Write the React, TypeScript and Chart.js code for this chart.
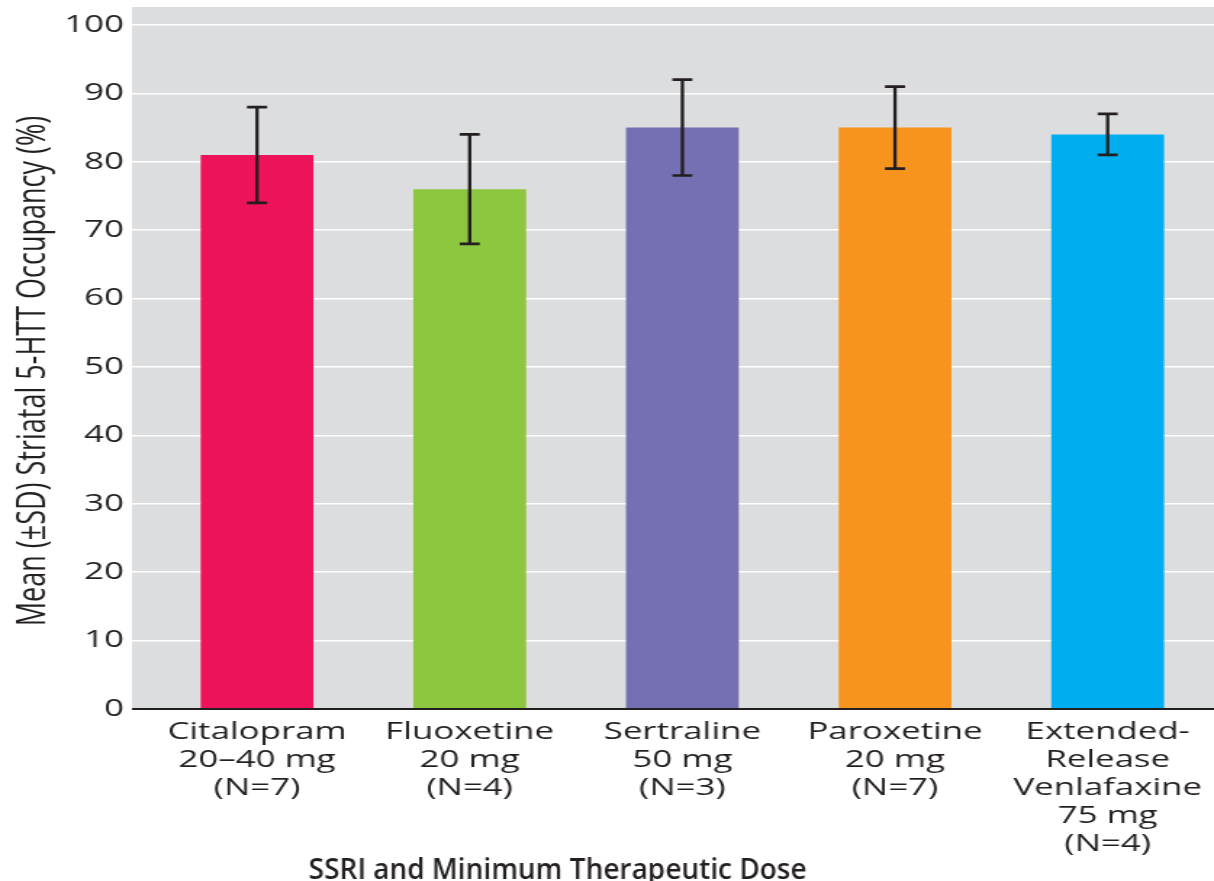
import React, { useEffect, useRef } from "react";
import { Chart, registerables } from "chart.js";

Chart.register(...registerables);

// Drug groups (multi-line category labels)
const drugLabels: string[][] = [
  ["Citalopram", "20–40 mg", "(N=7)"],
  ["Fluoxetine", "20 mg", "(N=4)"],
  ["Sertraline", "50 mg", "(N=3)"],
  ["Paroxetine", "20 mg", "(N=7)"],
  ["Extended-", "Release", "Venlafaxine", "75 mg", "(N=4)"],
];

// Mean striatal 5-HTT occupancy (%) and its standard deviation
const meanOccupancy: number[] = [81, 76, 85, 85, 84];
const sdOccupancy: number[] = [7, 8, 7, 6, 3];

const barColors: string[] = ["#ec135a", "#8dc63f", "#7470b3", "#f7941d", "#00aeef"];

const yTicks: number[] = [0, 10, 20, 30, 40, 50, 60, 70, 80, 90, 100];

const yTitle = "Mean (±SD) Striatal 5-HTT Occupancy (%)";
const xTitle = "SSRI and Minimum Therapeutic Dose";

// Drawing surface is rendered narrow and widened by CSS (horizontal stretch)
const STRETCH = 1.45;
const CSS_W = 1214;
const CSS_H = 881;
const CANVAS_W = Math.round(CSS_W / STRETCH);
const CANVAS_H = CSS_H;

const FONT = "'Open Sans', 'DejaVu Sans', sans-serif";
const INK = "#231f20";
const PANEL = "#dcdddf";
const TICK_LEN = 12.9;

const panelPlugin = {
  id: "panelBackground",
  beforeDraw(chart: any) {
    const { ctx, chartArea } = chart;
    ctx.save();
    ctx.fillStyle = PANEL;
    const left = chartArea.left - TICK_LEN;
    const top = chartArea.top - 18;
    ctx.fillRect(left, top, chartArea.right - left, chartArea.bottom - top);
    ctx.restore();
  },
};

const errorBarPlugin = {
  id: "errorBars",
  afterDatasetsDraw(chart: any) {
    const { ctx } = chart;
    const yScale = chart.scales.y;
    const meta = chart.getDatasetMeta(0);
    ctx.save();
    ctx.strokeStyle = INK;
    meta.data.forEach((bar: any, i: number) => {
      const x = bar.x;
      const hi = yScale.getPixelForValue(meanOccupancy[i] + sdOccupancy[i]);
      const lo = yScale.getPixelForValue(meanOccupancy[i] - sdOccupancy[i]);
      ctx.lineWidth = 2.3;
      ctx.beginPath();
      ctx.moveTo(x, hi);
      ctx.lineTo(x, lo);
      ctx.stroke();
      ctx.lineWidth = 2.7;
      ctx.beginPath();
      ctx.moveTo(x - 6.9, hi);
      ctx.lineTo(x + 6.9, hi);
      ctx.moveTo(x - 6.9, lo);
      ctx.lineTo(x + 6.9, lo);
      ctx.stroke();
    });
    ctx.restore();
  },
};

const titlesPlugin = {
  id: "axisTitles",
  afterDraw(chart: any) {
    const { ctx, chartArea } = chart;
    ctx.save();
    ctx.fillStyle = INK;
    // vertical axis title
    ctx.save();
    ctx.translate(31, (chartArea.top + chartArea.bottom) / 2 + 4);
    ctx.rotate(-Math.PI / 2);
    ctx.font = `400 27px ${FONT}`;
    ctx.textAlign = "center";
    ctx.textBaseline = "alphabetic";
    ctx.fillText(yTitle, 0, 0);
    ctx.restore();
    // horizontal axis title, drawn without the horizontal stretch
    ctx.save();
    ctx.translate(557.5 / STRETCH, 879);
    ctx.scale(1 / STRETCH, 1);
    ctx.font = `600 28px ${FONT}`;
    ctx.textAlign = "center";
    ctx.textBaseline = "alphabetic";
    ctx.fillText(xTitle, 0, 0);
    ctx.restore();
    ctx.restore();
  },
};

export default function App() {
  const canvasRef = useRef<HTMLCanvasElement | null>(null);

  useEffect(() => {
    document.body.style.margin = "0";
    const canvas = canvasRef.current;
    if (!canvas) return;
    const chart = new Chart(canvas, {
      type: "bar",
      data: {
        labels: drugLabels,
        datasets: [
          {
            data: meanOccupancy,
            backgroundColor: barColors,
            borderWidth: 0,
            barPercentage: 0.53,
            categoryPercentage: 1,
          },
        ],
      },
      options: {
        animation: false,
        responsive: false,
        devicePixelRatio: 1,
        layout: { padding: { top: 25, right: 0, left: 0, bottom: 0 } },
        plugins: {
          legend: { display: false },
          tooltip: { enabled: false },
          title: { display: false },
        },
        scales: {
          x: {
            offset: true,
            grid: { display: false },
            border: { display: false },
            ticks: {
              color: INK,
              autoSkip: false,
              maxRotation: 0,
              minRotation: 0,
              padding: 1.5,
              font: { family: FONT, size: 24, lineHeight: 1.16 },
            },
            afterFit(scale: any) {
              scale.height = CANVAS_H - 709;
            },
          },
          y: {
            min: 0,
            max: 100,
            afterBuildTicks(scale: any) {
              scale.ticks = yTicks.map((v) => ({ value: v }));
            },
            grid: {
              drawTicks: true,
              tickLength: TICK_LEN,
              color: (c: any) => (c.tick && c.tick.value === 0 ? INK : "#ffffff"),
              lineWidth: (c: any) => (c.tick && c.tick.value === 0 ? 2 : 1.5),
            },
            border: { display: false },
            ticks: {
              color: INK,
              padding: 5.5,
              font: { family: FONT, size: 24 },
            },
            afterFit(scale: any) {
              scale.width = 103.9;
            },
          },
        },
      },
      plugins: [panelPlugin, errorBarPlugin, titlesPlugin],
    });
    return () => chart.destroy();
  }, []);

  return (
    <canvas
      ref={canvasRef}
      width={CANVAS_W}
      height={CANVAS_H}
      style={{ display: "block", width: `${CSS_W}px`, height: `${CSS_H}px` }}
    />
  );
}
